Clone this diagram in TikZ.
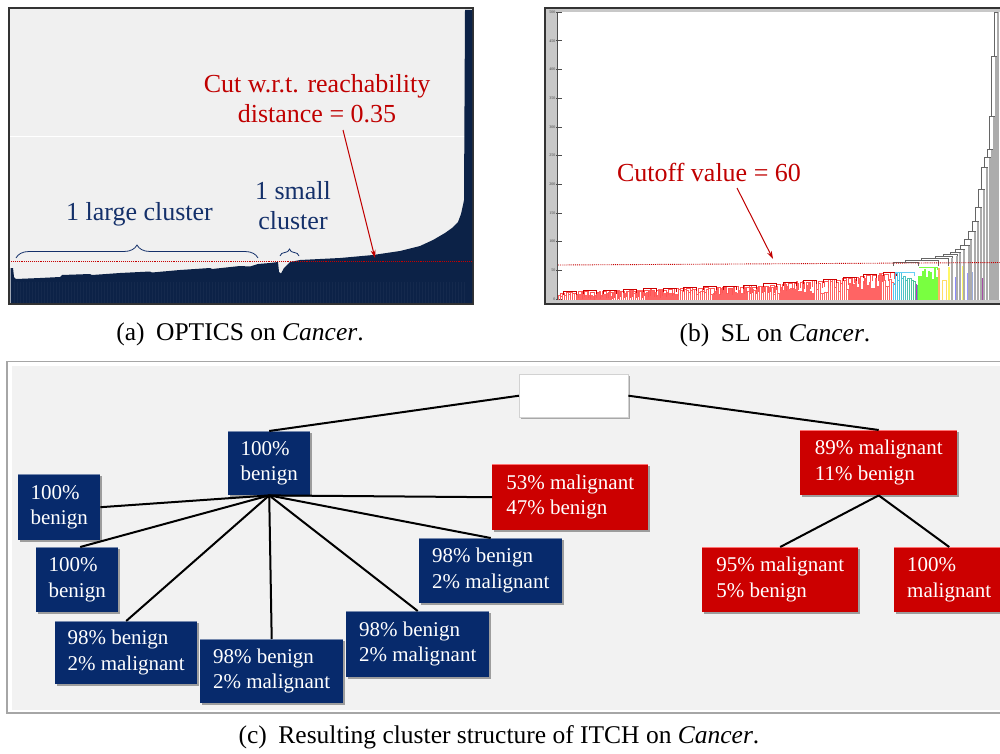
\documentclass[tikz,border=0pt]{standalone}
\usepackage{fontspec}
\setmainfont{Liberation Serif}
\usetikzlibrary{arrows.meta,calc,shadows,decorations.pathreplacing}

\definecolor{navyfill}{HTML}{0C2247}
\definecolor{navytext}{HTML}{14306A}
\definecolor{cutred}{HTML}{C00000}
\definecolor{boxblue}{HTML}{072A6C}
\definecolor{boxred}{HTML}{CC0000}
\definecolor{panelgray}{HTML}{F0F0F0}
\definecolor{treegray}{HTML}{F2F2F2}
\definecolor{framegray}{HTML}{C8C8C8}
\definecolor{dendred}{HTML}{FF6464}

\tikzset{
  cbox/.style={anchor=north west, inner xsep=0pt, inner ysep=0pt, align=left,
    text=white, font=\fontsize{21}{25.5}\selectfont,
    execute at begin node={\rule{0pt}{21pt}},
    drop shadow={shadow xshift=1.5pt, shadow yshift=-1.5pt, opacity=0.35, fill=black}},
  bluebox/.style={cbox, fill=boxblue,
    path picture={\draw[boxblue!55!white, line width=1.2pt]
      (path picture bounding box.north west) -- (path picture bounding box.north east);}},
  redbox/.style={cbox, fill=boxred,
    path picture={\draw[red!55!white, line width=1.2pt]
      (path picture bounding box.north west) -- (path picture bounding box.north east);}},
  rootbox/.style={anchor=north west, fill=white, draw=gray!35, inner sep=0pt,
    drop shadow={shadow xshift=1.5pt, shadow yshift=-1.5pt, opacity=0.3, fill=black}},
  link/.style={line width=2pt, black},
  cutline/.style={densely dotted, cutred!90!red, line width=0.9pt},
  cutarrow/.style={cutred, line width=1pt, -{Stealth[length=8pt,width=5pt]}},
  plotlabel/.style={font=\fontsize{26}{30}\selectfont},
  caption/.style={anchor=base, font=\fontsize{25.5}{30}\selectfont},
  clbrace/.style={decorate, navytext, line width=0.8pt},
  tick/.style={gray!60!black, line width=0.4pt},
  ticklabel/.style={anchor=east, inner sep=0.5pt, font=\fontsize{4}{4}\selectfont, text=gray!50!black}
}

\begin{document}
\begin{tikzpicture}[x=1pt, y=-1pt]
\path[use as bounding box] (0,0) rectangle (1000,754);
\clip (0,0) rectangle (1000,754);
\fill[white] (0,0) rectangle (1000,754);

% ---------------- (a) reachability plot ----------------
\draw[fill=panelgray, draw=black!80, line width=1.2pt] (9,8) rectangle (473,304);
\draw[white, line width=1pt] (10,137) -- (472,137);
\fill[navyfill]
  (10.5,303) -- (10.5,268) -- (13,268) -- (14,277) -- (16,279)
  -- (40,278) -- (60,277) -- (62,275) -- (90,274) -- (92,275) -- (120,273)
  -- (150,271.5) -- (152,272.5) -- (180,270) -- (210,268) -- (212,269)
  -- (240,266) -- (250,266.5) -- (258,264) -- (270,263) -- (278,262)
  -- (279,272) -- (281,273.5) -- (284,268) -- (290,262) -- (300,260)
  -- (340,258) -- (373,255) -- (400,251) -- (420,246) -- (433,240)
  -- (445,233) -- (452,228) -- (458,222) -- (461,214) -- (463,205)
  -- (464,200) -- (465,10) -- (472.4,10) -- (472.4,303) -- cycle;
\foreach \sx in {14,17,...,464}{
  \draw[white, opacity=0.035, line width=0.4pt] (\sx,282) -- (\sx,303);
}
\draw[cutline] (11,261) -- (472,261);
\draw[clbrace, decoration={brace, amplitude=13pt}] (16,258) -- (258,258);
\draw[clbrace, decoration={brace, amplitude=7pt}] (280,256) -- (299,256);
\node[plotlabel, text=navytext, anchor=base] (large) at (139.5,220) {1 large cluster};
\node[plotlabel, text=navytext, align=center] (small) at (293,206) {1 small\\cluster};
\node[plotlabel, text=cutred, align=center] (cutA) at (317,99) {Cut w.r.t. reachability\\distance = 0.35};
\coordinate (cutAfrom) at (343,130);
\coordinate (cutAto) at (375,258);
\draw[cutarrow] (cutAfrom) -- (cutAto);
\node[caption] (capA) at (240,340) {(a)\hspace{0.45em}OPTICS on \textit{Cancer}.};

% ---------------- (b) single-linkage dendrogram ----------------
\fill[framegray] (545,8) rectangle (1005,304);
\fill[white] (557,12.5) rectangle (1005,299.5);
\draw[line width=1.2pt, black!80] (545,8) rectangle (1005,304);
\draw[tick] (557,12.5) -- (557,299.5);
\foreach \v in {0,50,...,500}{
  \pgfmathsetmacro{\ty}{299-\v*0.574}
  \draw[tick] (556,\ty) -- (562,\ty);
  \node[ticklabel] at (556,\ty) {\v};
}
% red cluster: leaves and low merges
\pgfmathsetseed{11}
\foreach \i in {0,...,165}{
  \pgfmathsetmacro{\xa}{558.5+2.03*\i}
  \pgfmathsetmacro{\env}{\xa<740 ? 292-(\xa-558)*6/182 : (\xa<840 ? 286-(\xa-740)*0.08 : 278-(\xa-840)*0.13)}
  \pgfmathsetmacro{\ya}{\env+rnd*(299-\env)*0.7}
  \draw[dendred, line width=0.55pt] (\xa,299.5) |- (\xa+1.5,\ya) -- (\xa+1.5,299.5);
}
\foreach \i in {0,...,55}{
  \pgfmathsetmacro{\xa}{559+6*\i}
  \pgfmathsetmacro{\env}{\xa<740 ? 292-(\xa-558)*6/182 : (\xa<840 ? 286-(\xa-740)*0.08 : 278-(\xa-840)*0.13)}
  \pgfmathsetmacro{\ya}{\env+rnd*2}
  \draw[dendred!85!red, line width=0.55pt] (\xa+1,\ya+6) |- (\xa+5,\ya) -- (\xa+5,\ya+7);
}
\foreach \i in {0,...,16}{
  \pgfmathsetmacro{\xa}{560+20*\i}
  \pgfmathsetmacro{\env}{\xa<740 ? 292-(\xa-558)*6/182 : (\xa<840 ? 286-(\xa-740)*0.08 : 278-(\xa-840)*0.13)}
  \draw[red!80!black, line width=0.5pt] (\xa+3,\env+3) |- (\xa+16,\env-0.8) -- (\xa+16,\env+3);
}
% small coloured clusters
\foreach \i in {0,...,11}{
  \pgfmathsetmacro{\xa}{893.5+2*\i}
  \pgfmathsetmacro{\ya}{272+rnd*14}
  \pgfmathsetmacro{\mixv}{100-\i*7}
  \draw[cyan!\mixv!green!70!white, line width=0.6pt] (\xa,299.5) |- (\xa+1.4,\ya) -- (\xa+1.4,299.5);
}
\draw[cyan!60!white, line width=0.6pt] (895,272) -| (914,276);
\draw[violet!60!magenta!80!white, line width=1pt] (916,299.5) -- (916,284);
\foreach \i in {0,...,9}{
  \pgfmathsetmacro{\xa}{918+2*\i}
  \pgfmathsetmacro{\ya}{268+rnd*14}
  \draw[green!70!yellow!75!white, line width=0.6pt] (\xa,299.5) |- (\xa+1.4,\ya) -- (\xa+1.4,299.5);
}
\draw[green!70!yellow!75!white, line width=0.6pt] (919,267) -| (937,270);
\draw[orange!60!white, line width=1.2pt] (939,299.5) -- (939,268);
\draw[orange!45!yellow!60!white, line width=0.6pt] (942,299.5) |- (946,280) -- (946,299.5);
\draw[yellow!60!white, line width=1.2pt] (949,299.5) -- (949,267);
% grey merges above the cutoff
\foreach \gx/\gy in {952/258,957/256,960/253,964/250,969/246,971/240,975/232,
                     978/222,981/208,984/190,987/168,990/158,992/150,994/117,996/57,998/12}{
  \draw[gray!65, line width=2.2pt] (\gx,299.5) -- (\gx,\gy);
}
\foreach \lx/\ly/\lc in {955/277/blue!45!white, 962/266/yellow!60!white, 967/273/blue!40!white,
                         972/272/cyan!40!blue!40!white, 982/278/violet!70!white}{
  \draw[\lc, line width=1pt] (\lx,299.5) -- (\lx,\ly);
}
\draw[black!60, line width=0.6pt]
  (893,266) |- (918,262.5) -- (918,266)
  (905,262.5) |- (938,260.5) -- (938,266)
  (921,260.5) |- (948,258) -- (948,266)
  (935,258) |- (952,256) -- (952,258)
  (943,256) |- (957,254) -- (957,256)
  (950,254) |- (960,252) -- (960,253)
  (955,252) |- (964,249) -- (964,250)
  (960,249) |- (969,245) -- (969,246)
  (964,245) |- (971,239) -- (971,240)
  (968,239) |- (975,231) -- (975,232)
  (972,231) |- (978,221) -- (978,222)
  (975,221) |- (981,207) -- (981,208)
  (978,207) |- (984,189) -- (984,190)
  (981,189) |- (987,167) -- (987,168)
  (984,167) |- (990,157) -- (990,158)
  (987,157) |- (992,149) -- (992,150)
  (989,149) |- (994,116) -- (994,117)
  (991,116) |- (996,56) -- (996,57)
  (994,56) |- (998,12);
\draw[cutline] (558,265) -- (1004,262.5);
\node[plotlabel, text=cutred, anchor=base] (cutB) at (709,182) {Cutoff value = 60};
\coordinate (cutBfrom) at (737,188);
\coordinate (cutBto) at (773,259);
\draw[cutarrow] (cutBfrom) -- (cutBto);
\node[caption] (capB) at (775,341) {(b)\hspace{0.45em}SL on \textit{Cancer}.};

% ---------------- (c) ITCH cluster tree ----------------
\draw[fill=white, draw=gray!70, line width=1.3pt] (7,361.5) rectangle (1004,713);
\fill[treegray] (11.5,366) rectangle (1004,709.5);

\node[rootbox, minimum width=109pt, minimum height=43pt] (R0) at (519,374) {};
\node[bluebox, minimum width=82pt, minimum height=64pt] (b0) at (228,431) {100\%\\benign};
\node[bluebox, minimum width=82pt, minimum height=66pt] (L1) at (18,474) {100\%\\benign};
\node[bluebox, minimum width=82pt, minimum height=65pt] (L2) at (36,547) {100\%\\benign};
\node[bluebox, minimum width=142pt, minimum height=63pt] (L3) at (55,621) {98\% benign\\2\% malignant};
\node[bluebox, minimum width=143pt, minimum height=64pt] (L4) at (200,639) {98\% benign\\2\% malignant};
\node[bluebox, minimum width=143pt, minimum height=66pt] (L5) at (346,611) {98\% benign\\2\% malignant};
\node[bluebox, minimum width=143pt, minimum height=65pt] (L6) at (419,538) {98\% benign\\2\% malignant};
\node[redbox, minimum width=156pt, minimum height=66pt] (R1) at (492,464) {53\% malignant\\47\% benign};
\node[redbox, minimum width=157pt, minimum height=65pt] (R2) at (800,430) {89\% malignant\\11\% benign};
\node[redbox, minimum width=156pt, minimum height=65pt] (R3) at (702,547) {95\% malignant\\5\% benign};
\node[redbox, minimum width=110pt, minimum height=65pt] (R4) at (894,547) {100\%\\malignant};

\draw[link] (R0.west) -- (b0.north);
\draw[link] (R0.east) -- (R2.north);
\draw[link] (b0.south) -- (L1.east);
\draw[link] (b0.south) -- ($(L2.north)+(3,0)$);
\draw[link] (b0.south) -- (L3.north);
\draw[link] (b0.south) -- (L4.north);
\draw[link] (b0.south) -- (L5.north);
\draw[link] (b0.south) -- (L6.north);
\draw[link] (b0.south) -- (R1.west);
\draw[link] (R2.south) -- (R3.north);
\draw[link] (R2.south) -- (R4.north);

\node[caption] (capC) at (499,743) {(c)\hspace{0.45em}Resulting cluster structure of ITCH on \textit{Cancer}.};
\end{tikzpicture}
\end{document}
